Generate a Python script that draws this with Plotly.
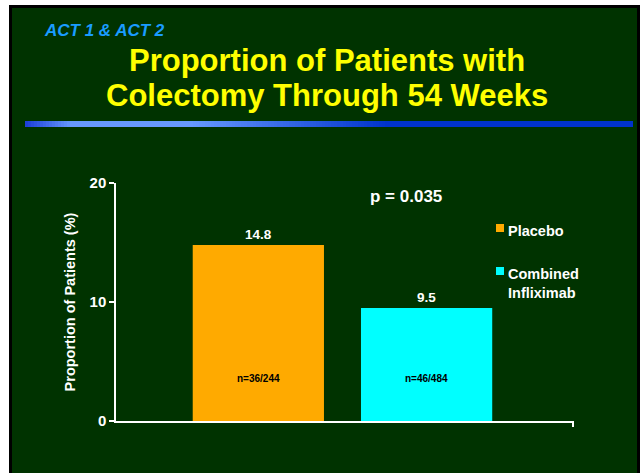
import plotly.graph_objects as go

W, H = 640, 473

# data
groups = ["Placebo", "Combined<br>Infliximab"]
pct_colectomy = [14.8, 9.5]
n_labels = ["n=36/244", "n=46/484"]
bar_colors = ["#ffaa00", "#00ffff"]
p_value = "p = 0.035"
title_lines = ["Proportion of Patients with", "Colectomy Through 54 Weeks"]

GREEN = "#003300"
FONT = "Liberation Sans, Arial, sans-serif"


def px(x):
    return x / W


def py(y):
    return 1 - y / H


def mix(c1, c2, t):
    a = [int(c1[i:i + 2], 16) for i in (1, 3, 5)]
    b = [int(c2[i:i + 2], 16) for i in (1, 3, 5)]
    return "#" + "".join(f"{round(u + (v - u) * t):02x}" for u, v in zip(a, b))


fig = go.Figure()
fig.add_trace(
    go.Bar(
        x=list(range(len(groups))),
        y=pct_colectomy,
        width=0.78,
        marker=dict(color=bar_colors, line=dict(width=0)),
        text=[f"{v:.1f}" for v in pct_colectomy],
        textposition="outside",
        cliponaxis=False,
        textfont=dict(family=FONT, size=13.5, color="white", weight="bold"),
        showlegend=False,
        hoverinfo="skip",
    )
)

shapes = [
    # slide frame
    dict(type="rect", xref="paper", yref="paper", x0=px(9), x1=1, y0=0, y1=py(5),
         fillcolor="black", line_width=0, layer="below"),
    dict(type="rect", xref="paper", yref="paper", x0=px(12), x1=px(637), y0=0, y1=py(8),
         fillcolor=GREEN, line_width=0, layer="below"),
    # end tick of x axis
    dict(type="line", xref="paper", yref="paper", x0=px(573), x1=px(573), y0=py(421), y1=py(427),
         line=dict(color="white", width=2)),
]

# blue gradient rule under the title
stops = [(25, "#1e40d8"), (70, "#6699ff"), (190, "#6699ff"), (385, "#0033cc"), (633, "#0033cc")]
step = 3
x = 25
while x < 633:
    for (a, ca), (b, cb) in zip(stops, stops[1:]):
        if a <= x < b:
            col = mix(ca, cb, (x - a) / (b - a))
            break
    shapes.append(dict(type="rect", xref="paper", yref="paper", x0=px(x), x1=px(min(x + step + 0.5, 633)),
                       y0=py(127), y1=py(121), fillcolor=col, line_width=0))
    x += step

annotations = [
    dict(text="<i><b>ACT 1 &amp; ACT 2</b></i>", xref="paper", yref="paper", x=px(42), y=py(30),
         xanchor="left", yanchor="middle", showarrow=False,
         font=dict(family=FONT, size=17, color="#1a9cff")),
    dict(text=f"<b>{p_value}</b>", xref="paper", yref="paper", x=px(406), y=py(196),
         xanchor="center", yanchor="middle", showarrow=False,
         font=dict(family=FONT, size=17, color="white")),
]
for line, yy in zip(title_lines, [60, 95]):
    annotations.append(dict(text=f"<b>{line}</b>", xref="paper", yref="paper", x=px(327), y=py(yy),
                            xanchor="center", yanchor="middle", showarrow=False,
                            font=dict(family=FONT, size=31, color="#ffff00")))
for i, lab in enumerate(n_labels):
    annotations.append(dict(text=f"<b>{lab}</b>", x=i, y=3.6, xref="x", yref="y", showarrow=False,
                            font=dict(family=FONT, size=10, color="black")))

# legend
leg_y = [228, 271]
for name, col, yy in zip(groups, bar_colors, leg_y):
    shapes.append(dict(type="rect", xref="paper", yref="paper", x0=px(496), x1=px(504),
                       y0=py(yy + 4), y1=py(yy - 4), fillcolor=col, line_width=0))
    annotations.append(dict(text=f"<b>{name}</b>", xref="paper", yref="paper", x=px(506), y=py(yy - 7),
                            xanchor="left", yanchor="top", align="left", showarrow=False,
                            font=dict(family=FONT, size=14.5, color="white")))

fig.update_layout(
    width=W,
    height=H,
    margin=dict(l=0, r=0, t=0, b=0, autoexpand=False),
    paper_bgcolor="white",
    plot_bgcolor=GREEN,
    xaxis=dict(
        domain=[px(116), px(573)],
        range=[-0.846, 1.87],
        automargin=False,
        showline=True, linecolor="white", linewidth=2,
        showticklabels=False, ticks="", showgrid=False, zeroline=False,
    ),
    yaxis=dict(
        domain=[py(421), py(183)],
        range=[0, 20],
        automargin=False,
        tickvals=[0, 10, 20],
        showline=True, linecolor="white", linewidth=1.5,
        ticks="outside", ticklen=5, tickcolor="white", tickwidth=1.5,
        tickfont=dict(family=FONT, size=15, color="white", weight="bold"),
        showgrid=False, zeroline=False,
        title=dict(text="<b>Proportion of Patients (%)</b>", standoff=10,
                   font=dict(family=FONT, size=14.5, color="white")),
    ),
    shapes=shapes,
    annotations=annotations,
)

# drop the page's default body margin so the 640x473 figure sits at the window origin
fig.write_html(
    "out.html",
    config={"displayModeBar": False},
    post_script="document.body.style.margin='0';document.body.style.overflow='hidden';",
)
